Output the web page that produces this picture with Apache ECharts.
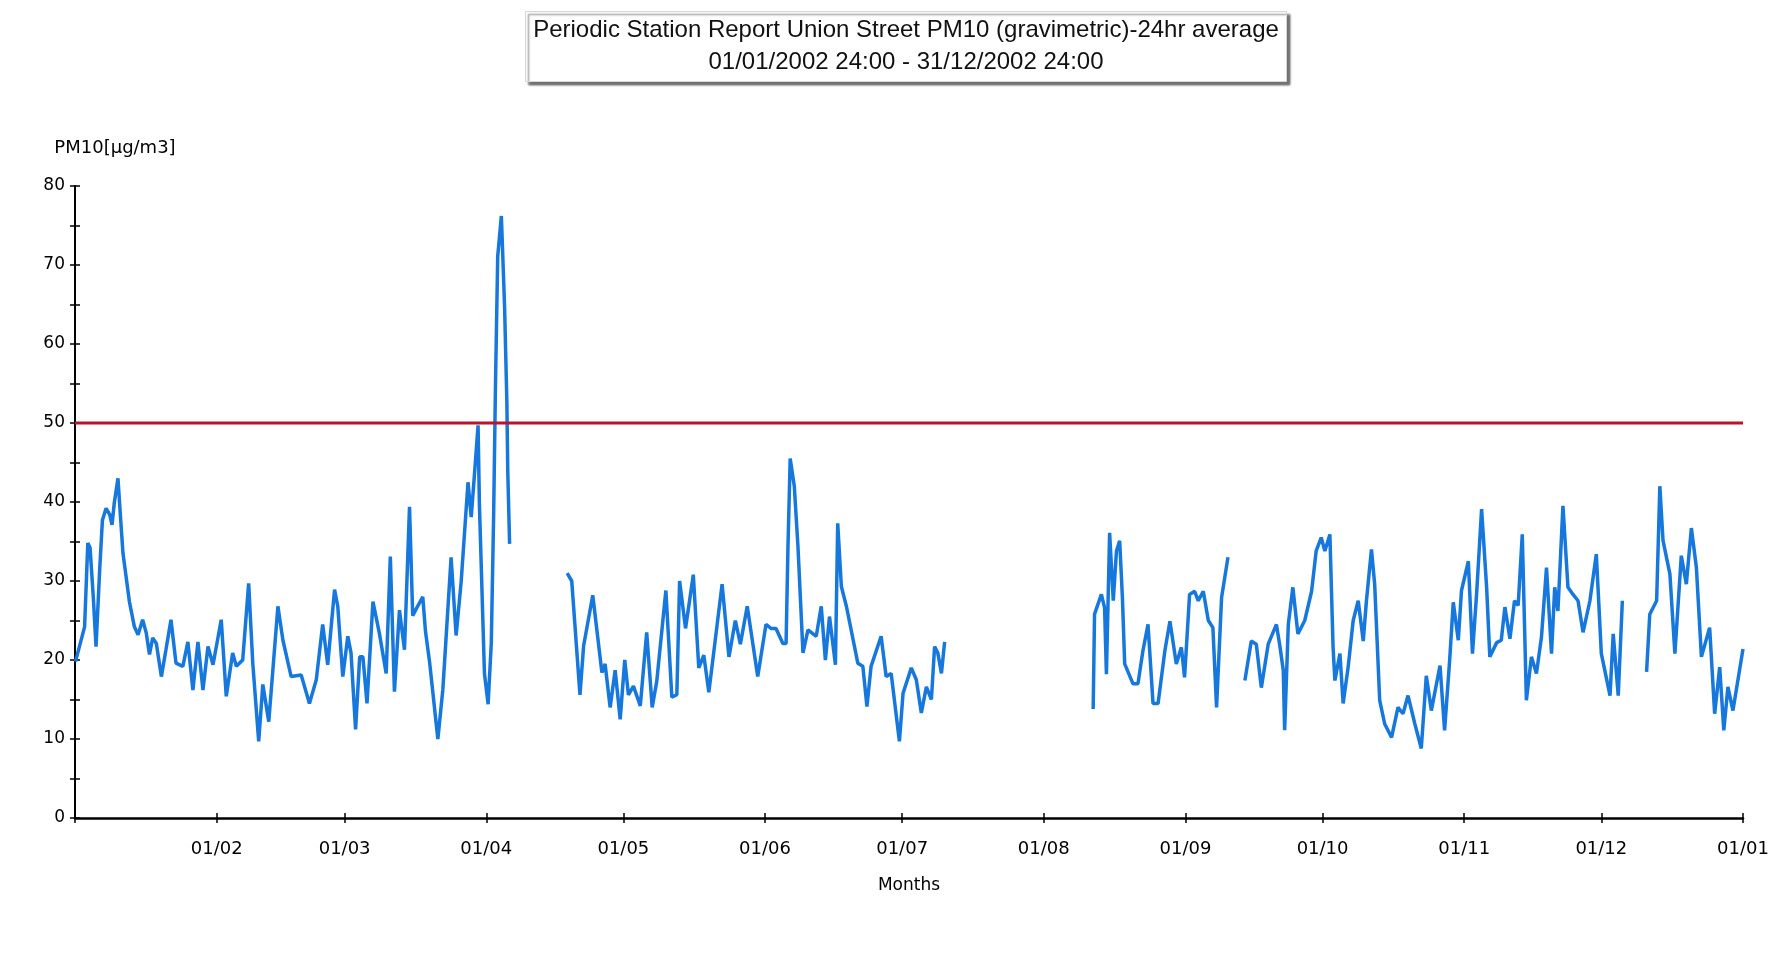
<!DOCTYPE html>
<html>
<head>
<meta charset="utf-8">
<script src="https://cdn.jsdelivr.net/npm/echarts@6/dist/echarts.min.js"></script>
<style>
  html, body { margin: 0; padding: 0; background: #ffffff; }
  #chart { width: 1791px; height: 970px; }
</style>
</head>
<body>
<div id="chart"></div>
<script>
// ---- data ----
const titleLine1 = 'Periodic Station Report Union Street PM10 (gravimetric)-24hr average';
const titleLine2 = '01/01/2002 24:00 - 31/12/2002 24:00';
const yAxisName = 'PM10[µg/m3]';
const xAxisName = 'Months';
const seriesName = 'PM10';
const limitValue = 50;
const yTicks = [0, 10, 20, 30, 40, 50, 60, 70, 80];

// day of year (days after 01/01/2002 00:00) at which each reading was taken; null value = data gap
const readDay = [
  0.1, 2.1, 2.8, 3.3, 4.0, 4.6, 5.4, 6.0, 6.8, 7.6, 8.1, 8.6, 9.4, 9.9, 10.5, 11.9, 13.0, 13.8, 14.8, 15.6,
  16.3, 17.0, 17.8, 18.9, 19.9, 21.0, 22.1, 23.6, 24.7, 25.8, 26.9, 28.0, 29.1, 30.2, 32.0, 33.1, 34.5, 35.3, 36.7, 38.0,
  38.9, 40.2, 41.1, 42.4, 44.4, 45.5, 47.3, 49.5, 51.3, 52.8, 54.2, 55.3, 56.8, 57.5, 58.6, 59.7, 60.4, 61.4, 62.3, 63.0,
  63.9, 65.2, 66.6, 68.1, 69.0, 69.9, 71.0, 72.1, 73.2, 73.9, 74.7, 76.1, 76.7, 77.6, 79.4, 80.5, 82.3, 83.4, 84.5, 86.0,
  86.7, 87.4, 88.2, 88.5, 89.6, 90.4, 91.1, 91.6, 92.0, 92.5, 93.3, 94.0, 94.5, 94.7, 95.1,
  100,
  107.7, 108.7, 110.5, 111.3, 113.3, 115.3, 116.0, 117.1, 118.2, 119.3, 120.3, 121.1, 122.2, 123.7, 125.1, 126.3, 127.3, 129.3, 130.6, 131.7,
  132.3, 133.6, 135.3, 136.5, 137.6, 138.7, 141.6, 143.1, 144.5, 145.6, 147.1, 149.4, 151.2, 152.3, 153.4, 154.9, 155.6, 156.0, 156.5, 157.4,
  158.2, 159.3, 160.4, 162.2, 163.3, 164.2, 165.1, 166.4, 166.9, 167.7, 168.8, 171.3, 172.4, 173.3, 174.2, 176.4, 177.5, 178.6, 180.4, 181.2,
  183.0, 184.1, 185.2, 186.3, 187.4, 188.1, 188.8, 189.6, 190.3,
  205,
  222.8, 223.1, 224.6, 225.3, 225.7, 226.4, 227.2, 227.9, 228.6, 229.2, 229.7, 231.5, 232.6, 233.7, 234.8, 235.9, 237.0, 238.5, 239.6, 241.0,
  242.1, 242.8, 243.9, 245.0, 245.8, 246.9, 248.0, 249.0, 249.8, 250.9, 252.3,
  254,
  256.0, 257.4, 258.5, 259.6, 261.1, 262.9, 263.6, 264.4, 264.7, 265.5, 266.5, 267.6, 269.1, 270.6, 271.6, 272.7, 273.5, 274.6, 275.3, 275.7,
  276.8, 277.5, 278.6, 279.7, 280.8, 281.9, 282.6, 283.7, 284.4, 285.5, 286.6, 288.1, 289.5, 290.6, 291.7, 293.2, 294.6, 295.7, 296.8, 298.7,
  299.7, 300.8, 301.6, 302.7, 303.4, 304.9, 305.8, 306.7, 307.8, 308.9, 309.6, 311.1, 312.1, 312.9, 314.0, 315.0, 315.8, 316.7, 317.6, 318.7,
  319.8, 320.9, 322.0, 323.1, 323.8, 324.5, 325.6, 326.7, 327.8, 328.9, 330.0, 331.5, 332.9, 334.0, 335.9, 336.6, 337.7, 338.6,
  341,
  343.9, 344.6, 346.1, 346.8, 347.5, 349.0, 350.1, 351.5, 352.6, 353.7, 354.8, 355.9, 357.7, 358.8, 359.9, 360.8, 361.7, 362.8, 365.0
];
const pm10 = [
  19.8, 24.2, 34.8, 34.2, 28.0, 21.7, 31.4, 37.7, 39.2, 38.4, 37.1, 39.9, 43.0, 38.6, 33.5, 27.4, 24.2, 23.2, 25.1, 23.4,
  20.7, 22.8, 22.1, 17.9, 21.3, 25.1, 19.6, 19.2, 22.3, 16.2, 22.3, 16.2, 21.7, 19.4, 25.1, 15.4, 20.9, 19.2, 20.0, 29.7,
  19.6, 9.7, 16.9, 12.2, 26.8, 22.5, 17.9, 18.1, 14.5, 17.5, 24.5, 19.4, 28.9, 26.8, 17.9, 23.0, 20.9, 11.2, 20.4, 20.4,
  14.5, 27.4, 23.4, 18.3, 33.1, 16.0, 26.3, 21.3, 39.4, 25.6, 26.5, 28.0, 23.6, 19.7, 10.0, 16.3, 33.0, 23.1, 29.9, 42.5,
  38.1, 43.4, 49.7, 39.6, 18.3, 14.4, 22.2, 38.1, 54.4, 71.1, 76.2, 64.8, 52.7, 43.9, 34.7,
  null,
  31.0, 30.0, 15.6, 21.8, 28.2, 18.4, 19.5, 14.0, 18.7, 12.5, 20.0, 15.6, 16.7, 14.2, 23.5, 14.0, 17.3, 28.8, 15.3, 15.6,
  30.0, 24.0, 30.8, 19.0, 20.6, 15.9, 29.6, 20.4, 25.0, 22.0, 26.8, 17.9, 24.5, 24.0, 24.0, 22.1, 22.1, 33.9, 45.5, 42.0,
  34.4, 20.9, 23.8, 23.0, 26.8, 20.0, 25.5, 19.4, 37.3, 29.3, 26.8, 19.6, 19.2, 14.1, 19.2, 23.0, 17.9, 18.3, 9.7, 15.8,
  19.0, 17.5, 13.3, 16.6, 15.0, 21.7, 20.9, 18.3, 22.3,
  null,
  13.8, 25.8, 28.3, 26.6, 18.2, 36.1, 27.5, 33.8, 35.1, 27.9, 19.5, 17.0, 17.0, 21.2, 24.5, 14.5, 14.5, 21.2, 24.9, 19.5,
  21.6, 17.8, 28.3, 28.7, 27.5, 28.7, 25.0, 24.1, 14.0, 27.9, 33.0,
  null,
  17.4, 22.4, 22.0, 16.5, 22.0, 24.5, 22.0, 18.7, 11.1, 24.5, 29.2, 23.3, 25.0, 28.7, 33.8, 35.5, 33.8, 35.9, 21.6, 17.4,
  20.8, 14.5, 19.1, 25.0, 27.5, 22.4, 27.5, 34.0, 29.6, 14.9, 11.9, 10.2, 14.0, 13.2, 15.5, 11.9, 8.8, 18.0, 13.6, 19.3,
  11.1, 19.9, 27.3, 22.5, 28.8, 32.5, 20.8, 28.3, 39.1, 29.2, 20.4, 22.2, 22.5, 26.7, 22.7, 27.5, 26.9, 35.9, 14.9, 20.4,
  18.3, 22.9, 31.7, 20.8, 29.2, 26.2, 39.5, 29.2, 28.3, 27.5, 23.5, 27.5, 33.4, 20.8, 15.5, 23.3, 15.5, 27.5,
  null,
  18.5, 25.8, 27.5, 42.0, 35.1, 30.9, 20.8, 33.2, 29.6, 36.7, 31.7, 20.4, 24.1, 13.2, 19.1, 11.1, 16.6, 13.6, 21.4
];

// ---- build chart ----
const DAY = 86400000;
const startTime = new Date(2002, 0, 1).getTime();
const endTime = new Date(2003, 0, 1).getTime();
const seriesData = readDay.map((d, i) => [startTime + d * DAY, pm10[i]]);
const limitData = [[startTime, limitValue], [endTime, limitValue]];

const pad2 = n => (n < 10 ? '0' : '') + n;
const monthLabel = function (value) {
  if (value <= startTime) return '';
  const d = new Date(value);
  return pad2(d.getDate()) + '/' + pad2(d.getMonth() + 1);
};
const yLabel = function (v) { return yTicks.indexOf(v) >= 0 ? String(v) : ''; };

const axisFont = 'DejaVu Sans';
const chart = echarts.init(document.getElementById('chart'), null, { renderer: 'canvas' });
chart.setOption({
  animation: false,
  backgroundColor: '#ffffff',
  title: {
    text: titleLine1 + '\n' + titleLine2,
    left: 898,
    top: 11,
    textAlign: 'center',
    padding: [3, 8, 4, 8],
    backgroundColor: '#ffffff',
    borderColor: '#d6d6d6',
    borderWidth: 1,
    shadowColor: 'rgba(70,70,70,0.75)',
    shadowBlur: 2,
    shadowOffsetX: 3,
    shadowOffsetY: 3,
    textStyle: {
      fontFamily: 'Liberation Sans',
      fontSize: 24,
      lineHeight: 32,
      fontWeight: 'normal',
      color: '#111111'
    }
  },
  grid: { left: 75, right: 48, top: 186, bottom: 152, containLabel: false },
  xAxis: [
    {
      type: 'time',
      min: startTime,
      max: endTime,
      splitNumber: 12,
      position: 'bottom',
      name: xAxisName,
      nameLocation: 'middle',
      nameGap: 59,
      nameTextStyle: { fontFamily: axisFont, fontSize: 17, color: '#000' },
      axisLine: { onZero: false, lineStyle: { color: '#000', width: 2.5 } },
      axisTick: { show: true, inside: false, length: 5, lineStyle: { color: '#000', width: 1.5 } },
      axisLabel: {
        formatter: monthLabel, showMinLabel: false, showMaxLabel: true,
        margin: 22, fontFamily: axisFont, fontSize: 18, color: '#000'
      },
      splitLine: { show: false }
    },
    {
      type: 'time',
      min: startTime,
      max: endTime,
      splitNumber: 12,
      position: 'bottom',
      axisLine: { show: false, onZero: false },
      axisTick: { show: true, inside: true, length: 5, lineStyle: { color: '#000', width: 1.5 } },
      axisLabel: { show: false },
      splitLine: { show: false }
    }
  ],
  yAxis: [
    {
      type: 'value',
      min: 0,
      max: 80,
      interval: 5,
      position: 'left',
      name: yAxisName,
      nameLocation: 'end',
      nameGap: 29,
      nameTextStyle: { fontFamily: axisFont, fontSize: 18, color: '#000', align: 'center', padding: [0, 0, 0, 80] },
      axisLine: { show: true, onZero: false, lineStyle: { color: '#000', width: 2 } },
      axisTick: { show: true, inside: false, length: 5, lineStyle: { color: '#000', width: 1.5 } },
      axisLabel: { formatter: yLabel, margin: 10, fontFamily: axisFont, fontSize: 17, color: '#000' },
      splitLine: { show: false }
    },
    {
      type: 'value',
      min: 0,
      max: 80,
      interval: 5,
      position: 'left',
      axisLine: { show: false, onZero: false },
      axisTick: { show: true, inside: true, length: 5, lineStyle: { color: '#000', width: 1.5 } },
      axisLabel: { show: false },
      splitLine: { show: false }
    }
  ],
  series: [
    {
      name: seriesName,
      type: 'line',
      xAxisIndex: 0,
      yAxisIndex: 0,
      data: seriesData,
      showSymbol: false,
      connectNulls: false,
      lineStyle: { color: '#1677dc', width: 3.5 },
      itemStyle: { color: '#1677dc' },
      z: 2
    },
    {
      name: 'Limit',
      type: 'line',
      xAxisIndex: 0,
      yAxisIndex: 0,
      data: limitData,
      showSymbol: false,
      lineStyle: { color: '#b8142e', width: 3 },
      z: 3
    }
  ]
});
</script>
</body>
</html>
